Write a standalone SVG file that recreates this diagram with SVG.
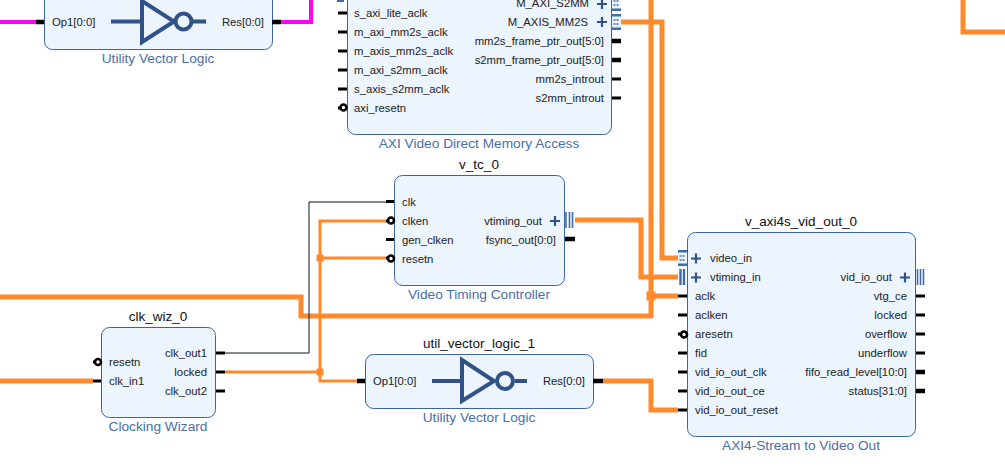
<svg xmlns="http://www.w3.org/2000/svg" width="1005" height="468" viewBox="0 0 1005 468">
<style>
text{font-family:"Liberation Sans",Arial,sans-serif}
.box{fill:#ecf4fd;stroke:#3f639c;stroke-width:1}
.t{font-size:13.500px;fill:#111;text-anchor:middle}
.s{font-size:13.700px;fill:#4a6ea9;text-anchor:middle}
.p{font-size:11.300px;fill:#222}
.r{font-size:11.300px;fill:#222;text-anchor:end}
.w{fill:none;stroke:#fe8a2c;stroke-linejoin:miter}
.w1{stroke-width:3}.w2{stroke-width:5}
.m{fill:none;stroke:#ff00ff;stroke-width:4}
.k{fill:none;stroke:#0d1526;stroke-width:1}
.st{stroke:#000;stroke-width:3}
.sb{stroke:#000;stroke-width:4.500}
.inv{fill:none;stroke:#2f5388;stroke-width:4}
.pl{fill:none;stroke:#2f5388;stroke-width:2.200}
.bus{stroke:#3f6ba8;stroke-width:1.600;fill:none}
.busl{stroke:#3f6ba8;stroke-width:2.400;fill:none}
.ci{fill:#fff;stroke:#000;stroke-width:2.600}
.jn{fill:#fe8a2c}
</style>
<defs>
<g id="dotpin">
<rect width="9" height="16" fill="#ecf4fd"/>
<rect width="9" height="2.500" fill="#3f6ba8"/>
<rect y="13.500" width="9" height="2.500" fill="#3f6ba8"/>
<path d="M1.500 6H7.500M1.500 10H7.500" stroke="#3f6ba8" stroke-width="1.500" stroke-dasharray="2 1"/>
</g>
</defs>
<g id="connectors">
<path class="m" d="M0 22H36"/>
<path class="m" d="M281 22H311V0"/>
<path class="w w2" d="M0 297H301V316H651"/>
<path class="w w2" d="M651 0V318"/>
<path class="w w2" d="M651 296H678"/>
<path class="w w2" d="M621 22H662V258H678"/>
<path class="w w2" d="M575 220H641V277H678"/>
<path class="w w2" d="M0 381H93"/>
<path class="w w2" d="M963 0V32H1005"/>
<path class="w w2" d="M603 381H651V410H678"/>
<path class="k" d="M224 353H309V202H386"/>
<path class="w w1" d="M225 372H320"/>
<path class="w w1" d="M386 221H320V381H357"/>
<path class="w w1" d="M320 258H386"/>
<rect class="jn" x="316.500" y="254.500" width="7" height="7"/>
<rect class="jn" x="316.500" y="368.500" width="7" height="7"/>
<rect class="jn" x="646.500" y="291.500" width="9" height="9"/>
</g>
<g id="util_vector_logic_0">
<rect class="box" x="44.500" y="-30" width="228" height="79.500" rx="8"/>
<path class="sb" d="M36 22H44M272 22H281"/>
<path class="inv" d="M111 21.500H142M142 1V42L174 21.500ZM193 21.500H206"/>
<circle class="inv" cx="183.500" cy="21.500" r="8"/>
<text class="p" x="52" y="26">Op1[0:0]</text>
<text class="r" x="264" y="26">Res[0:0]</text>
<text class="s" x="158" y="63">Utility Vector Logic</text>
</g>
<g id="axi_vdma">
<rect class="box" x="347.500" y="-40" width="264" height="174.500" rx="8"/>
<rect x="337" y="0" width="7" height="2" fill="#3f6ba8"/>
<path class="st" d="M338 13H347M338 32H347M338 51H347M338 70H347M338 89H347M612 79H621M612 98H621"/>
<path class="sb" d="M612 41H621M612 60H621"/>
<path class="st" d="M338 108H341"/>
<circle class="ci" cx="343.500" cy="107.500" r="3"/>
<text class="p" x="354" y="17">s_axi_lite_aclk</text>
<text class="p" x="354" y="36">m_axi_mm2s_aclk</text>
<text class="p" x="354" y="55">m_axis_mm2s_aclk</text>
<text class="p" x="354" y="74">m_axi_s2mm_aclk</text>
<text class="p" x="354" y="93">s_axis_s2mm_aclk</text>
<text class="p" x="354" y="112">axi_resetn</text>
<text class="r" x="589" y="7">M_AXI_S2MM</text>
<text class="r" x="588" y="26">M_AXIS_MM2S</text>
<text class="r" x="604" y="45">mm2s_frame_ptr_out[5:0]</text>
<text class="r" x="604" y="64">s2mm_frame_ptr_out[5:0]</text>
<text class="r" x="604" y="83">mm2s_introut</text>
<text class="r" x="604" y="102">s2mm_introut</text>
<path class="pl" d="M597 4H607M602 -1V9M597 22H607M602 17V27"/>
<use href="#dotpin" x="612" y="-5"/>
<use href="#dotpin" x="612" y="14"/>
<text class="s" x="479" y="148">AXI Video Direct Memory Access</text>
</g>
<g id="v_tc_0">
<text class="t" x="479" y="169">v_tc_0</text>
<rect class="box" x="394.500" y="175.500" width="170" height="110" rx="8"/>
<path class="st" d="M386 201.500H394M386 239.500H394"/>
<path class="st" d="M386 221H389M386 258H389"/>
<circle class="ci" cx="391" cy="220.500" r="3"/>
<circle class="ci" cx="391" cy="258.500" r="3"/>
<text class="p" x="402" y="206">clk</text>
<text class="p" x="402" y="225">clken</text>
<text class="p" x="402" y="244">gen_clken</text>
<text class="p" x="402" y="263">resetn</text>
<text class="r" x="542" y="225">vtiming_out</text>
<text class="r" x="556" y="244">fsync_out[0:0]</text>
<path class="pl" d="M550 221H560M555 216V226"/>
<path class="bus" d="M566 212V228M569.500 212V228M572.500 212V228"/>
<path class="sb" d="M565 239H575"/>
<text class="s" x="479" y="299">Video Timing Controller</text>
</g>
<g id="clk_wiz_0">
<text class="t" x="158" y="321">clk_wiz_0</text>
<rect class="box" x="101.500" y="327.500" width="114" height="90" rx="8"/>
<path class="st" d="M93 362H96M93 381H101M216 353H225M216 372H225M216 391H225"/>
<circle class="ci" cx="98" cy="362" r="3"/>
<text class="p" x="109" y="366">resetn</text>
<text class="p" x="109" y="385">clk_in1</text>
<text class="r" x="207" y="357">clk_out1</text>
<text class="r" x="207" y="376">locked</text>
<text class="r" x="207" y="395">clk_out2</text>
<text class="s" x="158" y="431">Clocking Wizard</text>
</g>
<g id="util_vector_logic_1">
<text class="t" x="479" y="348">util_vector_logic_1</text>
<rect class="box" x="365.500" y="354.500" width="228" height="54" rx="8"/>
<path class="sb" d="M357 381H365M593 381H603"/>
<path class="inv" d="M432 381H462M462 360V401L494 381ZM515 381H527"/>
<circle class="inv" cx="505" cy="381" r="8"/>
<text class="p" x="373" y="385">Op1[0:0]</text>
<text class="r" x="585" y="385">Res[0:0]</text>
<text class="s" x="479" y="422">Utility Vector Logic</text>
</g>
<g id="v_axi4s_vid_out_0">
<text class="t" x="801" y="226">v_axi4s_vid_out_0</text>
<rect class="box" x="687.500" y="232.500" width="228" height="204" rx="8"/>
<path class="st" d="M678 296H687M678 315H687M678 353H687M678 372H687M678 391H687M678 410H687M916 296H925M916 315H925M916 334H925M916 353H925"/>
<path class="sb" d="M916 372H925M916 391H925"/>
<path class="st" d="M678 334H681"/>
<circle class="ci" cx="684" cy="334.500" r="3"/>
<use href="#dotpin" x="678" y="250"/>
<path class="busl" d="M680.500 269V285M684 269V285"/>
<path class="pl" d="M691 258.500H701M696 253.500V263.500M691 277.500H701M696 272.500V282.500M900 277.500H910M905 272.500V282.500"/>
<path class="bus" d="M917.500 269V285M920.500 269V285M923.500 269V285"/>
<text class="p" x="710" y="262">video_in</text>
<text class="p" x="710" y="281">vtiming_in</text>
<text class="p" x="695" y="300">aclk</text>
<text class="p" x="695" y="319">aclken</text>
<text class="p" x="695" y="338">aresetn</text>
<text class="p" x="695" y="357">fid</text>
<text class="p" x="695" y="376">vid_io_out_clk</text>
<text class="p" x="695" y="395">vid_io_out_ce</text>
<text class="p" x="695" y="414">vid_io_out_reset</text>
<text class="r" x="892" y="281">vid_io_out</text>
<text class="r" x="907" y="300">vtg_ce</text>
<text class="r" x="907" y="319">locked</text>
<text class="r" x="907" y="338">overflow</text>
<text class="r" x="907" y="357">underflow</text>
<text class="r" x="907" y="376">fifo_read_level[10:0]</text>
<text class="r" x="907" y="395">status[31:0]</text>
<text class="s" x="801" y="450">AXI4-Stream to Video Out</text>
</g>
</svg>
